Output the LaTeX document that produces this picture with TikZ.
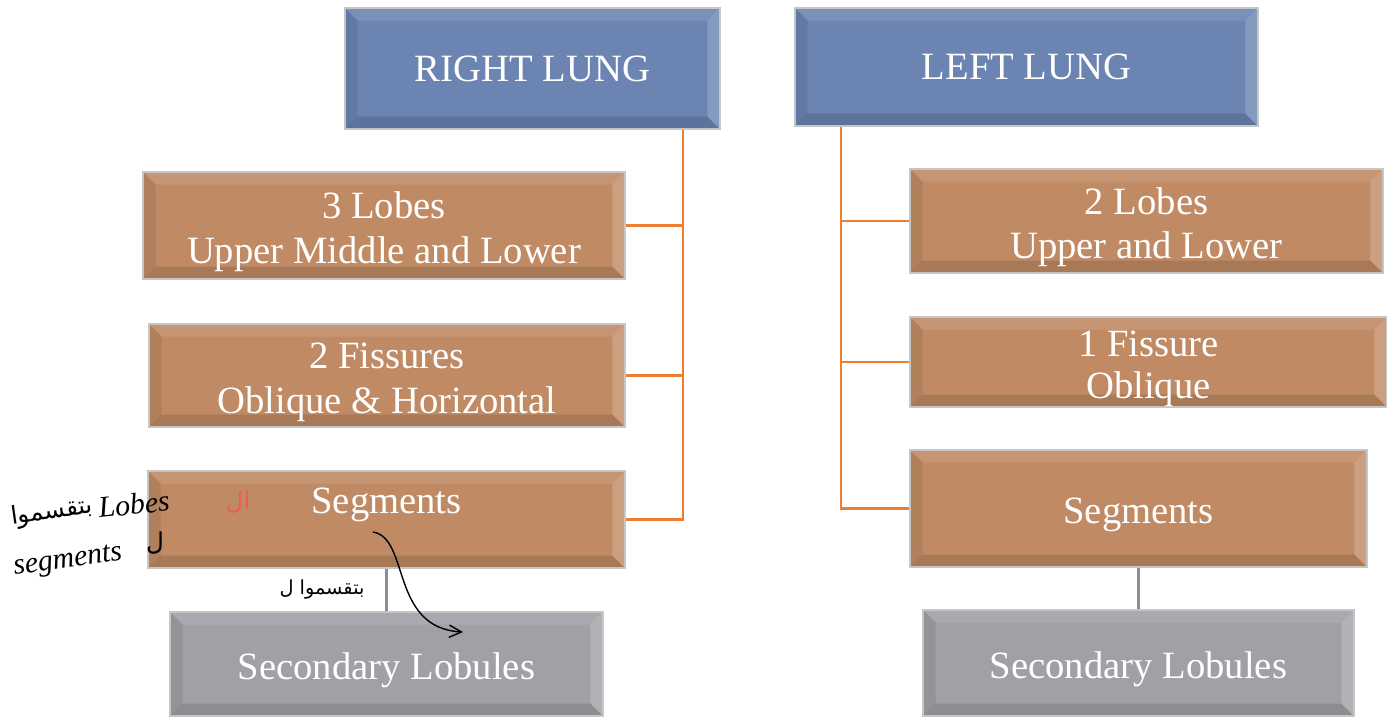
\documentclass[tikz,border=0pt]{standalone}
\usepackage{fontspec}
\setmainfont{Liberation Serif}
\newfontfamily\arabicfont[Script=Arabic]{DejaVu Sans}
\TeXXeTstate=1
\usetikzlibrary{arrows.meta}

\definecolor{lungblue}{RGB}{107,132,178}
\definecolor{lobebrown}{RGB}{192,138,100}
\definecolor{lobulegrey}{RGB}{160,160,166}
\definecolor{busorange}{RGB}{237,125,49}
\definecolor{stemgrey}{RGB}{140,140,150}
\definecolor{inkred}{RGB}{230,95,95}

% strut that pushes box text a little down
\newcommand\boxstrut{\rule{0pt}{0.78cm}}

\tikzset{
  bevel/.style={path picture={
    \fill[black,opacity=0.12] (path picture bounding box.south west) -- (path picture bounding box.south east)
      -- ([shift={(-0.25cm,0.25cm)}]path picture bounding box.south east) -- ([shift={(0.25cm,0.25cm)}]path picture bounding box.south west) -- cycle;
    \fill[black,opacity=0.08] (path picture bounding box.south west) -- (path picture bounding box.north west)
      -- ([shift={(0.25cm,-0.25cm)}]path picture bounding box.north west) -- ([shift={(0.25cm,0.25cm)}]path picture bounding box.south west) -- cycle;
    \fill[white,opacity=0.10] (path picture bounding box.north west) -- (path picture bounding box.north east)
      -- ([shift={(-0.25cm,-0.25cm)}]path picture bounding box.north east) -- ([shift={(0.25cm,-0.25cm)}]path picture bounding box.north west) -- cycle;
    \fill[white,opacity=0.18] (path picture bounding box.north east) -- (path picture bounding box.south east)
      -- ([shift={(-0.25cm,0.25cm)}]path picture bounding box.south east) -- ([shift={(-0.25cm,-0.25cm)}]path picture bounding box.north east) -- cycle;
  }},
  box/.style={draw=gray!45,line width=0.8pt,text=white,align=center,inner sep=0pt,
    font=\fontsize{22}{26}\selectfont,bevel},
  lung/.style={box,fill=lungblue},
  lobe/.style={box,fill=lobebrown},
  lobule/.style={box,fill=lobulegrey},
  bus/.style={busorange,line width=1.2pt},
  stem/.style={stemgrey,line width=1.6pt},
  ink/.style={text=black,inner sep=0pt,font=\arabicfont\fontsize{14}{16}\selectfont},
  inkhand/.style={text=black,inner sep=0pt,font=\itshape\fontsize{17}{19}\selectfont},
}

\begin{document}
\begin{tikzpicture}[x=0.02cm,y=-0.02cm]
\useasboundingbox[fill=white] (0,0) rectangle (1387,718);

% Right lung
\node[lung,minimum width=7.5cm,minimum height=2.42cm] (rlung) at (532.5,68.5) {RIGHT LUNG};
\node[lobe,minimum width=9.64cm,minimum height=2.14cm] (rlobes) at (384,225.5) {\boxstrut 3 Lobes\\Upper Middle and Lower};
\node[lobe,minimum width=9.52cm,minimum height=2.06cm] (rfiss) at (387,375.5) {\boxstrut 2 Fissures\\Oblique \& Horizontal};
\node[lobe,minimum width=9.54cm,minimum height=1.94cm,text height=0.52cm,text depth=0.78cm] (rseg) at (386.5,519.5) {Segments};
\node[lobule,minimum width=8.66cm,minimum height=2.08cm] (rsec) at (386.5,664) {\boxstrut Secondary Lobules};

% Left lung
\node[lung,minimum width=9.26cm,minimum height=2.36cm] (llung) at (1026.5,67) {LEFT LUNG};
\node[lobe,minimum width=9.46cm,minimum height=2.08cm,font=\fontsize{22}{25}\selectfont] (llobes) at (1146.5,221) {\boxstrut 2 Lobes\\Upper and Lower};
\node[lobe,minimum width=9.54cm,minimum height=1.8cm,font=\fontsize{22}{24}\selectfont] (lfiss) at (1148.5,362) {\boxstrut 1 Fissure\\Oblique};
\node[lobe,minimum width=9.14cm,minimum height=2.34cm] (lseg) at (1138.5,508.5) {\boxstrut Segments};
\node[lobule,minimum width=8.62cm,minimum height=2.12cm] (lsec) at (1138.5,663) {\boxstrut Secondary Lobules};

% Connectors
\coordinate (rbus) at (683,0);
\coordinate (lbus) at (841,0);
\draw[bus] (rlung.south -| rbus) -- (rseg.east -| rbus) -- (rseg.east);
\draw[bus] (rlobes.east) -- (rlobes.east -| rbus);
\draw[bus] (rfiss.east) -- (rfiss.east -| rbus);
\draw[bus] (llung.south -| lbus) -- (lseg.west -| lbus) -- (lseg.west);
\draw[bus] (llobes.west) -- (llobes.west -| lbus);
\draw[bus] (lfiss.west) -- (lfiss.west -| lbus);
\draw[stem] (rseg.south) -- (rsec.north);
\draw[stem] (lseg.south) -- (lsec.north);

% Handwritten notes
\node[ink,rotate=8] (hwdivide) at (52,512) {\beginR بتقسموا\endR};
\node[inkhand,rotate=6] (hwlobes) at (134,504) {Lobes};
\node[ink] (hwto) at (155,543) {ل};
\node[inkhand,rotate=8] (hwsegments) at (68,562) {segments};
\node[ink,text=inkred] (hwal) at (238,502) {\beginR ال\endR};
\node[ink,font=\arabicfont\fontsize{11}{13}\selectfont] (hwdivideto) at (322,590) {\beginR بتقسموا ل\endR};
\coordinate (notestart) at (373,532);
\coordinate (noteend) at (463,632);
\draw[line width=0.8pt,-{Straight Barb[length=7pt,width=7pt]}] (notestart) .. controls (410,538) and (390,628) .. (noteend);
\end{tikzpicture}
\end{document}
